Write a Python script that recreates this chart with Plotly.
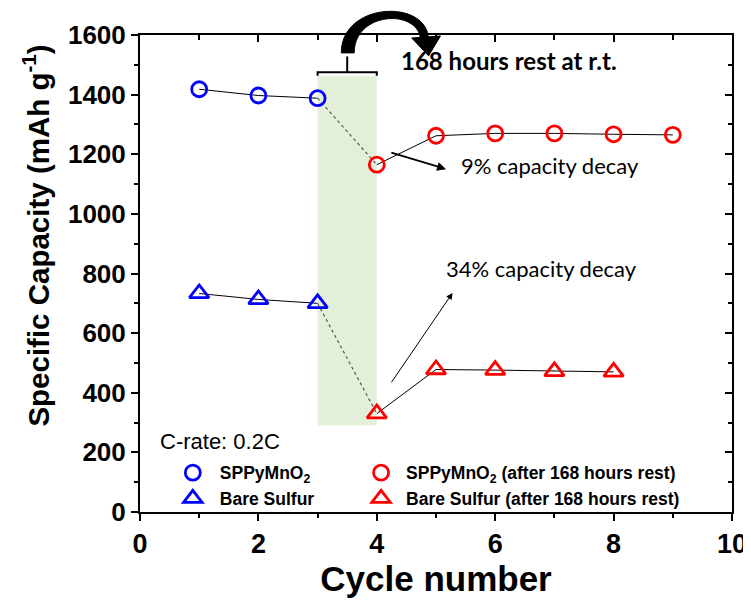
import plotly.graph_objects as go

# ---- data ----
cyc_before = [1, 2, 3]
cap_sppy_before = [1418, 1397, 1388]
cyc_after_sppy = [4, 5, 6, 7, 8, 9]
cap_sppy_after = [1165, 1262, 1270, 1270, 1267, 1265]
cap_bare_before = [733, 713, 700]
cyc_after_bare = [4, 5, 6, 7, 8]
cap_bare_after = [330, 478, 476, 472, 470]

x_ticks = [0, 2, 4, 6, 8, 10]
y_ticks = [0, 200, 400, 600, 800, 1000, 1200, 1400, 1600]

rest_x = [3, 4]
rest_y = [290, 1463]

ARIAL = "Liberation Sans"
CALIBRI = "Lato"

fig = go.Figure()

# connecting lines (black)
fig.add_trace(go.Scatter(x=cyc_before, y=cap_sppy_before, mode="lines",
                         line=dict(color="black", width=1), showlegend=False, hoverinfo="skip"))
fig.add_trace(go.Scatter(x=cyc_after_sppy, y=cap_sppy_after, mode="lines",
                         line=dict(color="black", width=1), showlegend=False, hoverinfo="skip"))
fig.add_trace(go.Scatter(x=[cyc_before[-1], cyc_after_sppy[0]],
                         y=[cap_sppy_before[-1], cap_sppy_after[0]], mode="lines",
                         line=dict(color="#555555", width=1.2, dash="dot"), showlegend=False, hoverinfo="skip"))
fig.add_trace(go.Scatter(x=cyc_before, y=cap_bare_before, mode="lines",
                         line=dict(color="black", width=1), showlegend=False, hoverinfo="skip"))
fig.add_trace(go.Scatter(x=cyc_after_bare, y=cap_bare_after, mode="lines",
                         line=dict(color="black", width=1), showlegend=False, hoverinfo="skip"))
fig.add_trace(go.Scatter(x=[cyc_before[-1], cyc_after_bare[0]],
                         y=[cap_bare_before[-1], cap_bare_after[0]], mode="lines",
                         line=dict(color="#555555", width=1.2, dash="dot"), showlegend=False, hoverinfo="skip"))

# markers
fig.add_trace(go.Scatter(x=cyc_before, y=cap_sppy_before, mode="markers", name="SPPyMnO<sub>2</sub>",
                         marker=dict(symbol="circle-open", size=15, color="#0000ff", line=dict(width=2.8)),
                         legend="legend"))
fig.add_trace(go.Scatter(x=cyc_before, y=cap_bare_before, mode="markers", name="Bare Sulfur",
                         marker=dict(symbol="triangle-up-open", size=17, color="#0000ff", line=dict(width=2.8)),
                         legend="legend"))
fig.add_trace(go.Scatter(x=cyc_after_sppy, y=cap_sppy_after, mode="markers",
                         name="SPPyMnO<sub>2</sub> (after 168 hours rest)",
                         marker=dict(symbol="circle-open", size=15, color="#ff0000", line=dict(width=2.8)),
                         legend="legend2"))
fig.add_trace(go.Scatter(x=cyc_after_bare, y=cap_bare_after, mode="markers",
                         name="Bare Sulfur (after 168 hours rest)",
                         marker=dict(symbol="triangle-up-open", size=17, color="#ff0000", line=dict(width=2.8)),
                         legend="legend2"))

# green rest region
fig.add_shape(type="rect", xref="x", yref="y", x0=rest_x[0], x1=rest_x[1], y0=rest_y[0], y1=rest_y[1],
              fillcolor="#e2f0d9", line=dict(width=0), layer="below")
# bracket
fig.add_shape(type="path", xref="x", yref="y",
              path=f"M {rest_x[0]},{rest_y[1]} L {rest_x[0]},{rest_y[1]+12} L {rest_x[1]},{rest_y[1]+12} L {rest_x[1]},{rest_y[1]}",
              line=dict(color="black", width=2))
fig.add_shape(type="line", xref="x", yref="y", x0=3.5, x1=3.5, y0=rest_y[1] + 12, y1=rest_y[1] + 65,
              line=dict(color="black", width=2))

# curved arrow (paper coords, converted from plot-area pixels)
W, H, L, T = 597.0, 480.0, 140.0, 32.0
def px(xp, yp):
    return "%.5f,%.5f" % ((xp - L) / W, (T + H - yp) / H)
arc = (f"M {px(343,50)} C {px(343,-2)} {px(432,-5)} {px(431,38)} "
       f"L {px(423,39)} C {px(424,5)} {px(356,7)} {px(356,50)} Z")
fig.add_shape(type="path", xref="paper", yref="paper", path=arc,
              fillcolor="black", line=dict(color="black", width=1))
head = f"M {px(414,35)} L {px(443,33)} L {px(431,53)} Z"
fig.add_shape(type="path", xref="paper", yref="paper", path=head,
              fillcolor="black", line=dict(color="black", width=1))

# annotations
fig.add_annotation(x=4.37, y=1513, xref="x", yref="y", text="<b>168 hours rest at r.t.</b>",
                   showarrow=False, xanchor="left", yanchor="middle",
                   font=dict(family=CALIBRI, size=24, color="black"))
fig.add_annotation(x=5.39, y=1162, xref="x", yref="y", text="9% capacity decay",
                   showarrow=False, xanchor="left", yanchor="middle",
                   font=dict(family=CALIBRI, size=22, color="black"))
fig.add_annotation(x=5.17, y=1150, ax=4.22, ay=1207, xref="x", yref="y", axref="x", ayref="y",
                   text="", showarrow=True, arrowhead=2, arrowsize=1, arrowwidth=1.8, arrowcolor="black")
fig.add_annotation(x=5.14, y=816, xref="x", yref="y", text="34% capacity decay",
                   showarrow=False, xanchor="left", yanchor="middle",
                   font=dict(family=CALIBRI, size=22, color="black"))
fig.add_annotation(x=5.28, y=735, ax=4.23, ay=430, xref="x", yref="y", axref="x", ayref="y",
                   text="", showarrow=True, arrowhead=2, arrowsize=1.3, arrowwidth=1, arrowcolor="black")
fig.add_annotation(x=0.3, y=237, xref="x", yref="y", text="C-rate: 0.2C",
                   showarrow=False, xanchor="left", yanchor="middle",
                   font=dict(family=ARIAL, size=22, color="black"))
# y-axis title (placed as in the reference, above the axis centre)
fig.add_annotation(x=(35 - L) / W, y=(T + H - 234) / H, xref="paper", yref="paper",
                   text="<b>Specific Capacity (mAh g<sup>-1</sup>)</b>", textangle=-90,
                   showarrow=False, xanchor="center", yanchor="middle",
                   font=dict(family=ARIAL, size=29.5, color="black"))

axis_common = dict(showgrid=False, zeroline=False, linecolor="black", linewidth=2,
                   tickcolor="black", tickwidth=2, showline=True)

fig.update_layout(
    width=751, height=603,
    margin=dict(l=132, r=22, t=24, b=99),
    plot_bgcolor="white", paper_bgcolor="white",
    xaxis=dict(range=[0, 10], tickvals=x_ticks, ticks="outside", ticklen=7,
               minor=dict(dtick=1, tick0=0, ticks="outside", ticklen=4, tickcolor="black", tickwidth=2),
               tickfont=dict(family=ARIAL, size=27, color="black", weight="bold"),
               title=dict(text="<b>Cycle number</b>", font=dict(family=ARIAL, size=35, color="black"), standoff=6),
               **axis_common),
    yaxis=dict(range=[0, 1600], tickvals=y_ticks, ticks="outside", ticklen=7,
               minor=dict(dtick=100, tick0=0, ticks="outside", ticklen=4, tickcolor="black", tickwidth=2),
               tickfont=dict(family=ARIAL, size=26, color="black", weight="bold"),
               **axis_common),
    xaxis2=dict(range=[0, 10], overlaying="x", side="top", tickvals=x_ticks, ticks="inside", ticklen=7,
                minor=dict(dtick=1, tick0=0, ticks="inside", ticklen=5, tickcolor="black", tickwidth=2),
                showticklabels=False, **axis_common),
    yaxis2=dict(range=[0, 1600], overlaying="y", side="right", tickvals=y_ticks, ticks="inside", ticklen=7,
                minor=dict(dtick=100, tick0=0, ticks="inside", ticklen=4, tickcolor="black", tickwidth=2),
                showticklabels=False, **axis_common),
    legend=dict(x=0.0436, y=0.12, xanchor="left", yanchor="top", bgcolor="rgba(0,0,0,0)",
                font=dict(family=ARIAL, size=17.5, color="black", weight="bold"), tracegroupgap=0,
                itemwidth=44),
    legend2=dict(x=0.365, y=0.12, xanchor="left", yanchor="top", bgcolor="rgba(0,0,0,0)",
                 font=dict(family=ARIAL, size=17.5, color="black", weight="bold"), tracegroupgap=0,
                 itemwidth=40),
)
# dummy trace to activate the secondary axes
fig.add_trace(go.Scatter(x=[None], y=[None], xaxis="x2", yaxis="y2", showlegend=False, hoverinfo="skip"))

fig.write_html("out.html")
